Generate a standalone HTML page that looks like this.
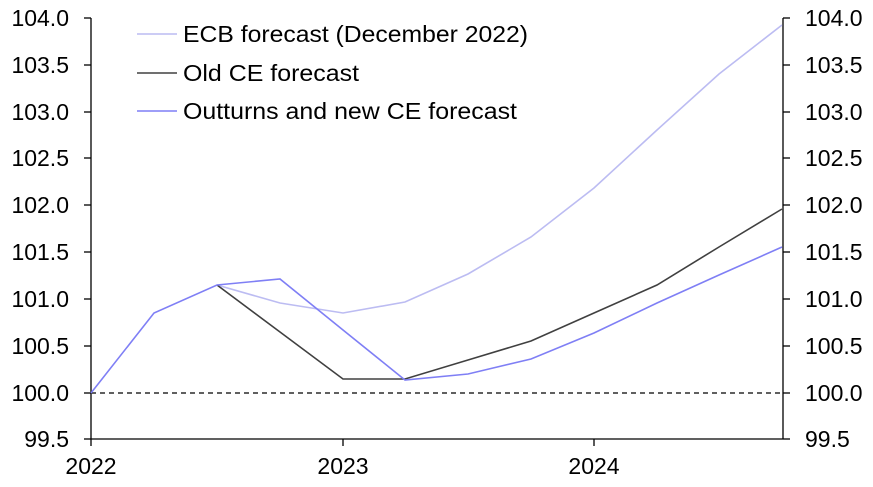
<!DOCTYPE html>
<html><head><meta charset="utf-8"><style>
html,body{margin:0;padding:0;background:#fff;}
svg text{font-family:"Liberation Sans",Arial,sans-serif;font-size:23px;fill:#000;}
</style></head><body>
<svg width="873" height="482" viewBox="0 0 873 482" xmlns="http://www.w3.org/2000/svg">
<g stroke="#000" stroke-width="1.3">
<line x1="91" y1="18" x2="91" y2="439"/>
<line x1="783" y1="18" x2="783" y2="439"/>
<line x1="91" y1="439" x2="783" y2="439"/>
<line x1="84" y1="18" x2="91" y2="18"/><line x1="84" y1="65" x2="91" y2="65"/><line x1="84" y1="112" x2="91" y2="112"/><line x1="84" y1="158" x2="91" y2="158"/><line x1="84" y1="205" x2="91" y2="205"/><line x1="84" y1="252" x2="91" y2="252"/><line x1="84" y1="299" x2="91" y2="299"/><line x1="84" y1="346" x2="91" y2="346"/><line x1="84" y1="393" x2="91" y2="393"/><line x1="84" y1="439" x2="91" y2="439"/>
<line x1="783" y1="18" x2="790" y2="18"/><line x1="783" y1="65" x2="790" y2="65"/><line x1="783" y1="112" x2="790" y2="112"/><line x1="783" y1="158" x2="790" y2="158"/><line x1="783" y1="205" x2="790" y2="205"/><line x1="783" y1="252" x2="790" y2="252"/><line x1="783" y1="299" x2="790" y2="299"/><line x1="783" y1="346" x2="790" y2="346"/><line x1="783" y1="393" x2="790" y2="393"/><line x1="783" y1="439" x2="790" y2="439"/>
<line x1="91" y1="439" x2="91" y2="446"/><line x1="343" y1="439" x2="343" y2="446"/><line x1="594" y1="439" x2="594" y2="446"/>
</g>
<line x1="91" y1="393" x2="783" y2="393" stroke="#000" stroke-width="1.3" stroke-dasharray="5,4"/>
<g text-anchor="end">
<text x="69" y="26">104.0</text><text x="69" y="73">103.5</text><text x="69" y="120">103.0</text><text x="69" y="166">102.5</text><text x="69" y="213">102.0</text><text x="69" y="260">101.5</text><text x="69" y="307">101.0</text><text x="69" y="354">100.5</text><text x="69" y="401">100.0</text><text x="69" y="447">99.5</text>
</g>
<g text-anchor="start">
<text x="805" y="26">104.0</text><text x="805" y="73">103.5</text><text x="805" y="120">103.0</text><text x="805" y="166">102.5</text><text x="805" y="213">102.0</text><text x="805" y="260">101.5</text><text x="805" y="307">101.0</text><text x="805" y="354">100.5</text><text x="805" y="401">100.0</text><text x="805" y="447">99.5</text>
</g>
<g text-anchor="middle">
<text x="91" y="474">2022</text><text x="343" y="474">2023</text><text x="594" y="474">2024</text>
</g>
<g fill="none" stroke-width="1.6">
<polyline stroke="#bcbcf2" points="217,285 280,303 343,313 405,302 468,274 531,237 594,188 657,130 719,74 782,25"/>
<polyline stroke="#404040" points="217,285 280,332 343,379 405,379 468,360 531,341 594,313 657,285 719,247 782,209"/>
<polyline stroke="#7f7ff5" points="91,393 154,313 217,285 280,279 343,330 405,380 468,374 531,359 594,333 657,303 719,275 782,247"/>
</g>
<line x1="137" y1="34" x2="177" y2="34" stroke="#bcbcf2" stroke-width="1.6"/>
<line x1="137" y1="73" x2="177" y2="73" stroke="#404040" stroke-width="1.6"/>
<line x1="137" y1="111" x2="177" y2="111" stroke="#7f7ff5" stroke-width="1.6"/>
<text x="183" y="42" textLength="345" lengthAdjust="spacingAndGlyphs">ECB forecast (December 2022)</text>
<text x="183" y="81" textLength="176" lengthAdjust="spacingAndGlyphs">Old CE forecast</text>
<text x="183" y="119" textLength="334" lengthAdjust="spacingAndGlyphs">Outturns and new CE forecast</text>
</svg>
</body></html>
